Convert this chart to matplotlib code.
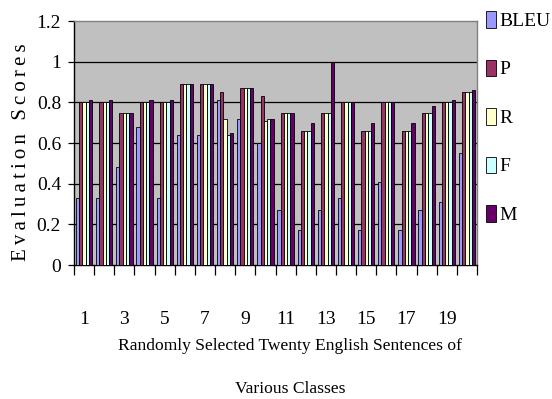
import matplotlib
matplotlib.use("Agg")
import matplotlib.pyplot as plt
import numpy as np

# scores per sentence (1..20)
sentences = list(range(1, 21))
bleu = [0.33, 0.33, 0.48, 0.68, 0.33, 0.64, 0.64, 0.81, 0.72, 0.60,
        0.27, 0.17, 0.27, 0.33, 0.17, 0.41, 0.17, 0.27, 0.31, 0.55]
p_scores = [0.80, 0.80, 0.75, 0.80, 0.80, 0.89, 0.89, 0.85, 0.87, 0.83,
            0.75, 0.66, 0.75, 0.80, 0.66, 0.80, 0.66, 0.75, 0.80, 0.85]
r_scores = [0.80, 0.80, 0.75, 0.80, 0.80, 0.89, 0.89, 0.72, 0.87, 0.71,
            0.75, 0.66, 0.75, 0.80, 0.66, 0.80, 0.66, 0.75, 0.80, 0.85]
f_scores = [0.80, 0.80, 0.75, 0.80, 0.80, 0.89, 0.89, 0.64, 0.87, 0.72,
            0.75, 0.66, 0.75, 0.80, 0.66, 0.80, 0.66, 0.75, 0.80, 0.85]
m_scores = [0.81, 0.81, 0.75, 0.81, 0.81, 0.89, 0.89, 0.65, 0.87, 0.72,
            0.75, 0.70, 1.00, 0.80, 0.70, 0.80, 0.70, 0.78, 0.81, 0.86]

series_names = ["BLEU", "P", "R", "F", "M"]
series_colors = ["#9999FF", "#993366", "#FFFFCC", "#CCFFFF", "#660066"]
y_ticks = [0, 0.2, 0.4, 0.6, 0.8, 1.0, 1.2]
x_tick_labels = [1, 3, 5, 7, 9, 11, 13, 15, 17, 19]

FONT = ["Liberation Serif", "DejaVu Serif"]
FS = 14

fig = plt.figure(figsize=(5.52, 3.99), dpi=100)
ax = fig.add_axes([74 / 552, 1 - 265 / 399, 403 / 552, 244 / 399])
ax.set_facecolor("#C0C0C0")

x = np.array(sentences, dtype=float)
bar_w = 0.162
all_series = [bleu, p_scores, r_scores, f_scores, m_scores]
handles = []
for i, (vals, name, col) in enumerate(zip(all_series, series_names, series_colors)):
    offs = (i - 2) * bar_w
    h = ax.bar(x + offs, vals, width=bar_w, color=col, edgecolor="black",
               linewidth=0.6, label=name, zorder=3)
    handles.append(h)

ax.set_xlim(0.5, 20.5)
ax.set_ylim(0, 1.2)

# horizontal gridlines
for yv in y_ticks[1:-1]:
    ax.axhline(yv, color="black", linewidth=0.9, zorder=1)

ax.set_yticks(y_ticks)
ax.set_yticklabels(["%g" % v for v in y_ticks], fontfamily=FONT, fontsize=FS)
ax.tick_params(axis="y", direction="out", length=4.3, width=0.9, pad=5)

ax.set_xticks(x_tick_labels)
ax.set_xticklabels([str(v) for v in x_tick_labels], fontfamily=FONT, fontsize=FS)
ax.set_xticks(np.arange(0.5, 21, 1.0), minor=True)
ax.tick_params(axis="x", which="major", length=0, pad=33)
ax.tick_params(axis="x", which="minor", direction="out", length=7, width=0.9)

for side in ["top", "right"]:
    ax.spines[side].set_color("#808080")
    ax.spines[side].set_linewidth(1.0)
for side in ["left", "bottom"]:
    ax.spines[side].set_color("black")
    ax.spines[side].set_linewidth(1.0)

# axis titles
fig.text(22 / 552, 1 - 152 / 399,
         "E\u2009v\u2009a\u2009l\u2009u\u2009a\u2009t\u2009i\u2009o\u2009n\u2009 \u2009S\u2009c\u2009o\u2009r\u2009e\u2009s",
         rotation=90, ha="center", va="center", fontfamily=FONT, fontsize=15)
fig.text(290 / 552, 1 - 350 / 399, "Randomly Selected Twenty English Sentences of",
         ha="center", va="baseline", fontfamily=FONT, fontsize=12.6)
fig.text(290 / 552, 1 - 393 / 399, "Various Classes",
         ha="center", va="baseline", fontfamily=FONT, fontsize=12.6)

fig.legend(handles=handles, labels=series_names, loc="upper left",
           bbox_to_anchor=(486 / 552, 1 - 11 / 399), frameon=False,
           prop={"family": FONT, "size": FS}, handlelength=0.52,
           handleheight=0.93, handletextpad=0.15, labelspacing=1.52,
           borderaxespad=0, borderpad=0)

fig.savefig("out.png", dpi=100)
